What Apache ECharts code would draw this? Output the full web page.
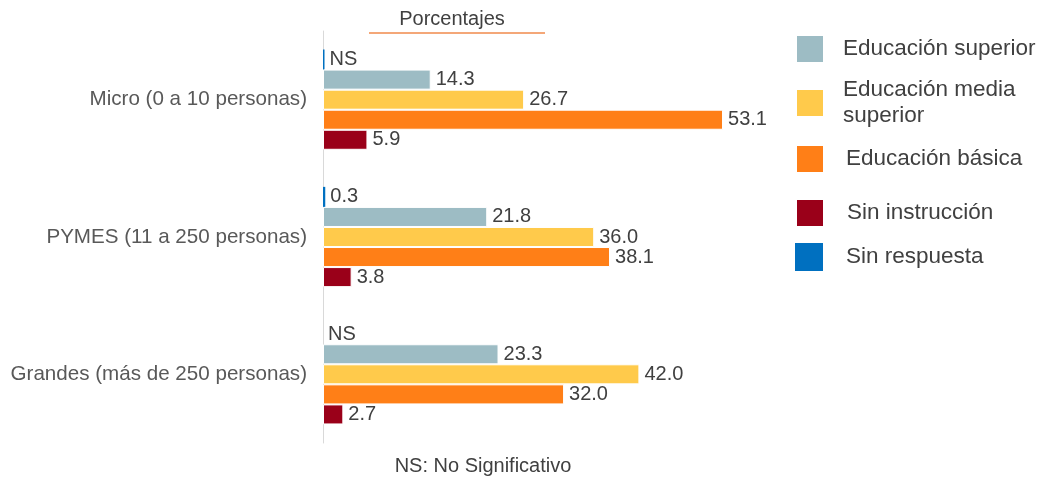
<!DOCTYPE html>
<html><head><meta charset="utf-8">
<script src="https://cdn.jsdelivr.net/npm/echarts@6/dist/echarts.min.js"></script>
<style>html,body{margin:0;padding:0;background:#fff}#c{width:1042px;height:479px}</style>
</head><body><div id="c"></div>
<script>
const categories = ['Micro (0 a 10 personas)', 'PYMES (11 a 250 personas)', 'Grandes (más de 250 personas)'];
const sinRespuesta = [0.2, 0.3, 0];
const sinRespuestaLabels = ['NS', '0.3', 'NS'];
const superior = [14.3, 21.8, 23.3];
const mediaSuperior = [26.7, 36.0, 42.0];
const basica = [53.1, 38.1, 32.0];
const sinInstruccion = [5.9, 3.8, 2.7];

const FONT = 'Liberation Sans, Arial, sans-serif';
const TXT = '#404040';
const colors = {
  'Sin respuesta': '#0070C0',
  'Educación superior': '#9DBCC4',
  'Educación media superior': '#FFCA4B',
  'Educación básica': '#FF7F17',
  'Sin instrucción': '#9A0019'
};
function mk(name, data, labels) {
  return {
    name, type: 'bar', data: data,
    barGap: '0%', barCategoryGap: '27%',
    itemStyle: { color: colors[name], borderColor: '#fff', borderWidth: name === 'Sin respuesta' ? 0 : 1 },
    label: {
      show: true, position: 'right', distance: 5, color: TXT, fontSize: 20, fontFamily: FONT,
      formatter: p => labels ? labels[p.dataIndex] : p.value.toFixed(1)
    }
  };
}
// [name, square top, text left]
const legendPos = [
  ['Educación superior', 34, 842],
  ['Educación media superior', 77, 842],
  ['Educación básica', 144, 845],
  ['Sin instrucción', 198, 846],
  ['Sin respuesta', 243, 846]
];
const chart = echarts.init(document.getElementById('c'));
chart.setOption({
  animation: false,
  textStyle: { fontFamily: FONT },
  grid: { left: 323, top: 31, width: 452, height: 412, containLabel: false },
  xAxis: { type: 'value', min: 0, max: 60, show: false },
  yAxis: {
    type: 'category', data: categories, inverse: true,
    axisLine: { show: true, lineStyle: { color: '#D9D9D9', width: 1 } },
    axisTick: { show: false },
    axisLabel: { color: '#595959', fontSize: 20.6, fontFamily: FONT, margin: 16 }
  },
  legend: legendPos.map(([n, top, left]) => ({
    data: [n], top: top, left: 795, padding: 0, itemWidth: 28, itemHeight: 28, itemGap: 0,
    icon: 'rect',
    formatter: x => x === 'Educación media superior' ? 'Educación media\nsuperior' : x,
    textStyle: { color: TXT, fontSize: 22.5, fontFamily: FONT, padding: [0, 0, 0, left - 795 - 28 - 5], lineHeight: 26 },
    selectedMode: false
  })),
  graphic: [
    { type: 'text', x: 452, y: 9, style: { text: 'Porcentajes', fill: TXT, font: '20px ' + FONT, textAlign: 'center' } },
    { type: 'line', shape: { x1: 369, y1: 33, x2: 545, y2: 33 }, style: { stroke: '#F08A4B', lineWidth: 1.5 } },
    { type: 'text', x: 483, y: 456, style: { text: 'NS: No Significativo', fill: TXT, font: '20px ' + FONT, textAlign: 'center' } }
  ],
  series: [
    mk('Sin respuesta', sinRespuesta, sinRespuestaLabels),
    mk('Educación superior', superior),
    mk('Educación media superior', mediaSuperior),
    mk('Educación básica', basica),
    mk('Sin instrucción', sinInstruccion)
  ]
});
</script></body></html>
